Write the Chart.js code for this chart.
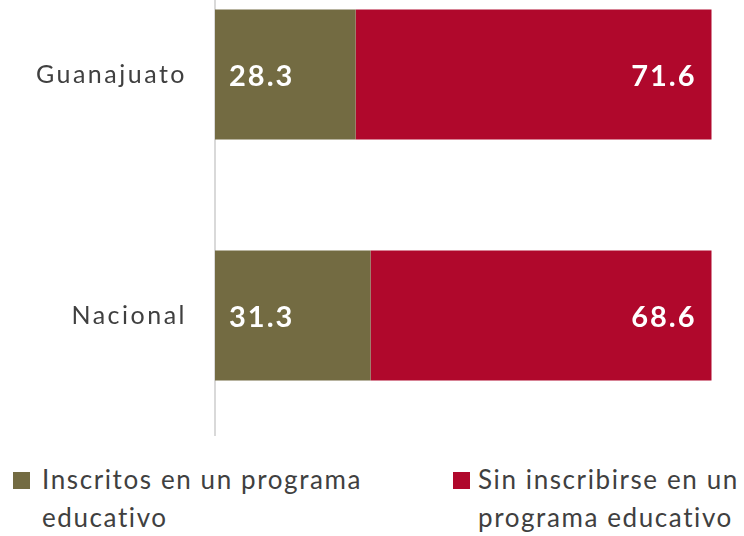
<!DOCTYPE html>
<html>
<head>
<meta charset="utf-8">
<script src="https://cdn.jsdelivr.net/npm/chart.js@4.4.0/dist/chart.umd.min.js"></script>
<style>
  html, body { margin: 0; padding: 0; background: #ffffff; }
  body { width: 744px; height: 536px; position: relative; overflow: hidden; font-family: Lato, "Open Sans", sans-serif; }
  #chart { position: absolute; left: 0; top: -46px; }
  .leg { position: absolute; top: 460px; color: #404040; font-size: 26px; line-height: 38px; letter-spacing: 1.6px; }
  .leg .sw { position: absolute; left: 0; top: 12px; width: 17px; height: 17px; }
  .leg .txt { position: absolute; top: 0; white-space: normal; }
</style>
</head>
<body>
<canvas id="chart" width="744" height="482"></canvas>
<div id="legend"></div>
<script>
// Categories and series values
const categories = ['Guanajuato', 'Nacional'];
const seriesNames = ['Inscritos en un programa educativo', 'Sin inscribirse en un programa educativo'];
const inscritos = [28.3, 31.3];
const sinInscribirse = [71.6, 68.6];
const seriesColors = ['#736b42', '#b0082c'];

const FONT = 'Lato, "Open Sans", sans-serif';

// Slightly tracked-out text for the axis labels
const tracking = {
  id: 'tracking',
  beforeDraw(chart) { chart.ctx.letterSpacing = '2.5px'; },
  afterDraw(chart) { chart.ctx.letterSpacing = '0px'; }
};

// White value labels inside each bar segment
const valueLabels = {
  id: 'valueLabels',
  afterDatasetsDraw(chart) {
    const ctx = chart.ctx;
    ctx.save();
    ctx.letterSpacing = '2px';
    ctx.font = 'bold 29px ' + FONT;
    ctx.fillStyle = '#ffffff';
    ctx.textBaseline = 'middle';
    chart.data.datasets.forEach((ds, i) => {
      chart.getDatasetMeta(i).data.forEach((bar, j) => {
        const txt = ds.data[j].toFixed(1);
        if (i === 0) {
          ctx.textAlign = 'left';
          ctx.fillText(txt, bar.base + 14, bar.y + 2);
        } else {
          ctx.textAlign = 'right';
          ctx.fillText(txt, bar.x - 15, bar.y + 2);
        }
      });
    });
    ctx.restore();
  }
};

new Chart(document.getElementById('chart'), {
  type: 'bar',
  data: {
    labels: categories,
    datasets: [
      { label: seriesNames[0], data: inscritos, backgroundColor: seriesColors[0] },
      { label: seriesNames[1], data: sinInscribirse, backgroundColor: seriesColors[1] }
    ]
  },
  options: {
    indexAxis: 'y',
    responsive: false,
    animation: false,
    layout: { padding: { left: 0, right: 32, top: 0, bottom: 0 } },
    datasets: { bar: { barPercentage: 0.54, categoryPercentage: 1 } },
    plugins: { legend: { display: false }, tooltip: { enabled: false } },
    scales: {
      x: { type: 'linear', min: 0, max: 100, stacked: true, display: false },
      y: {
        stacked: true,
        grid: { display: false, drawTicks: false },
        border: { display: true, color: '#d9d9d9', width: 2 },
        ticks: { color: '#404040', padding: 28, font: { family: FONT, size: 25 } },
        afterFit(scale) {
          scale.width = 215;
          scale.paddingTop = 0;
          scale.paddingBottom = 0;
        }
      }
    }
  },
  plugins: [tracking, valueLabels]
});

// Legend built from the series names and colours
const legendEl = document.getElementById('legend');
const legendPos = [{ left: 13, gap: 29, width: 345 }, { left: 453, gap: 25, width: 275 }];
seriesNames.forEach((name, i) => {
  const item = document.createElement('div');
  item.className = 'leg';
  item.style.left = legendPos[i].left + 'px';
  const sw = document.createElement('div');
  sw.className = 'sw';
  sw.style.background = seriesColors[i];
  const txt = document.createElement('div');
  txt.className = 'txt';
  txt.style.left = legendPos[i].gap + 'px';
  txt.style.width = legendPos[i].width + 'px';
  txt.textContent = name;
  item.appendChild(sw);
  item.appendChild(txt);
  legendEl.appendChild(item);
});
</script>
</body>
</html>
